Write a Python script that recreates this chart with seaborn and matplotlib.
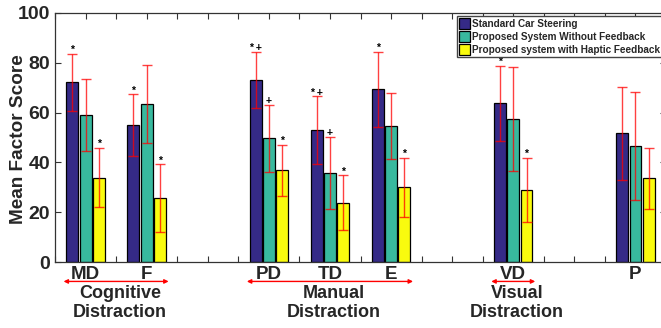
import matplotlib
matplotlib.use("Agg")
import numpy as np
import pandas as pd
import matplotlib.pyplot as plt
import matplotlib.transforms as mtransforms
import seaborn as sns
from matplotlib.patches import Patch
from matplotlib.ticker import MultipleLocator

# factors, blank slots keep the gaps between the distraction groups
categories = ["MD", "F", "PD", "TD", "E", "VD", "P"]
slot_order = ["MD", "F", " ", "PD", "TD", "E", "  ", "VD", "   ", "P"]
conditions = ["Standard Car Steering",
              "Proposed System Without Feedback",
              "Proposed system with Haptic Feedback"]

standard_mean = [72.2, 55.0, 73.0, 53.0, 69.3, 63.7, 51.7]
nofb_mean = [59.0, 63.3, 49.7, 35.7, 54.7, 57.4, 46.5]
haptic_mean = [33.9, 25.6, 36.8, 23.8, 30.0, 29.0, 33.6]

standard_sd = [11.4, 12.3, 11.3, 13.5, 15.2, 15.0, 18.6]
nofb_sd = [14.6, 15.7, 13.5, 14.6, 13.3, 21.0, 21.8]
haptic_sd = [11.9, 13.7, 10.3, 11.1, 11.9, 12.9, 12.2]

# significance marks above each bar
standard_sig = ["*", "*", "* +", "* +", "*", "*", ""]
nofb_sig = ["", "", "+", "+", "", "", ""]
haptic_sig = ["*", "*", "*", "*", "*", "*", ""]

groups = ["Cognitive\nDistraction", "Manual\nDistraction", "Visual\nDistraction"]
group_members = [["MD", "F"], ["PD", "TD", "E"], ["VD"]]

colors = ["#352a87", "#38b99e", "#f9fb0e"]

means = [standard_mean, nofb_mean, haptic_mean]
sds = [standard_sd, nofb_sd, haptic_sd]
sigs = [standard_sig, nofb_sig, haptic_sig]

df = pd.DataFrame({
    "factor": categories * 3,
    "condition": np.repeat(conditions, len(categories)),
    "score": standard_mean + nofb_mean + haptic_mean,
})

sns.set_style("ticks")
plt.rcParams["font.family"] = ["Liberation Sans", "DejaVu Sans"]
plt.rcParams["font.weight"] = "bold"

fig = plt.figure(figsize=(6.61, 3.28), dpi=100)
ax = fig.add_axes([0.0832, 0.2012, 0.9244, 0.7592])

sns.barplot(data=df, x="factor", y="score", hue="condition",
            order=slot_order, hue_order=conditions, palette=colors,
            errorbar=None, width=0.65, gap=0.1, edgecolor="black",
            linewidth=0.9, saturation=1, legend=False, ax=ax)

# error bars + significance marks, placed on the bars seaborn drew
for container, m, s, g in zip(ax.containers, means, sds, sigs):
    for bar in container:
        xc = bar.get_x() + bar.get_width() / 2
        idx = slot_order[int(round(xc))]
        i = categories.index(idx)
        ax.errorbar(xc, m[i], yerr=s[i], color="red", alpha=0.75,
                    lw=1, capsize=3.8, capthick=1, zorder=4)
        if g[i]:
            ax.text(xc, m[i] + s[i] + 0.3, g[i], ha="center", va="baseline",
                    fontsize=7.5, color="black", zorder=5)

ax.set_xlim(-0.5, len(slot_order) - 0.5)
ax.set_ylim(0, 100)
ax.yaxis.set_major_locator(MultipleLocator(20))
ax.set_xticks(np.arange(len(slot_order)))
ax.set_xticklabels(slot_order)
ax.xaxis.set_minor_locator(MultipleLocator(0.5))
ax.tick_params(axis="both", which="both", direction="in", top=True,
               right=True, length=4.5, width=0.8, color="#333333")
ax.tick_params(axis="x", which="major", labelsize=13.5, pad=3)
ax.tick_params(axis="y", labelsize=14, pad=3.5)
for lab in ax.get_xticklabels() + ax.get_yticklabels():
    lab.set_fontweight("bold")
for sp in ax.spines.values():
    sp.set_visible(True)
    sp.set_color("#333333")
    sp.set_linewidth(0.9)

ax.set_xlabel("")
ax.set_ylabel("Mean Factor Score", fontsize=13.7, fontweight="bold")
ax.yaxis.set_label_coords(-0.046, 0.494)

# distraction group brackets under the axis
trans = mtransforms.blended_transform_factory(ax.transData, ax.transAxes)
for name, members in zip(groups, group_members):
    pos = [slot_order.index(c) for c in members]
    x0, x1 = min(pos) - 0.36, max(pos) + 0.36
    ax.annotate("", xy=(x1, -0.078), xytext=(x0, -0.078), xycoords=trans,
                textcoords=trans,
                arrowprops=dict(arrowstyle="<|-|>", color="red", lw=1,
                                mutation_scale=6, shrinkA=0, shrinkB=0),
                annotation_clip=False)
    ax.text(np.mean(pos) + 0.06, -0.165, name, transform=trans, ha="center",
            va="center", fontsize=13, fontweight="bold", linespacing=1.15)

handles = [Patch(facecolor=c, edgecolor="black", lw=0.9) for c in colors]
leg = ax.legend(handles, conditions, loc="upper left",
                bbox_to_anchor=(0.658, 0.986), fontsize=7.2, frameon=True,
                fancybox=False, framealpha=1, edgecolor="#444444",
                handlelength=1.1, handleheight=1.3, handletextpad=0.15,
                borderpad=0.2, labelspacing=0.2, borderaxespad=0)
for t in leg.get_texts():
    t.set_fontweight("bold")
leg.get_frame().set_linewidth(1.0)

fig.savefig("out.png", dpi=100)
